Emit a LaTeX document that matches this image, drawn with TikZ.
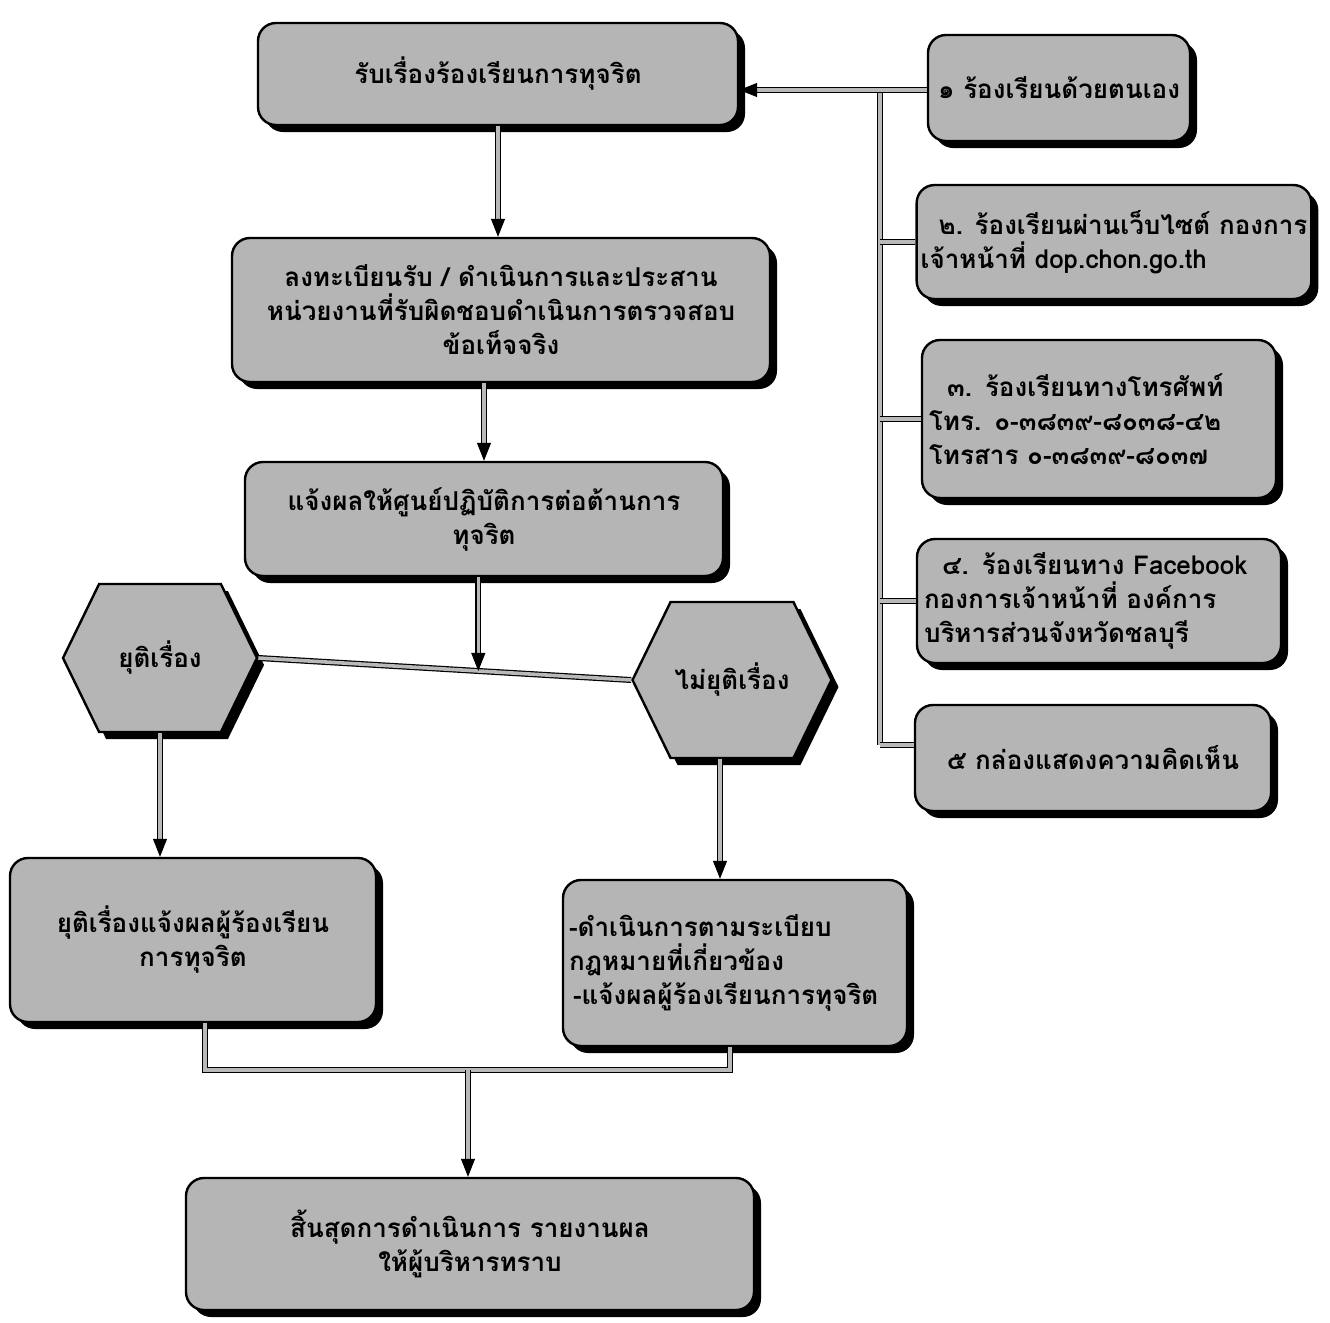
\documentclass[tikz,border=0pt]{standalone}
\usepackage{fontspec}
\newfontfamily\thai[Script=Thai]{Loma}
\usetikzlibrary{shapes.symbols,shadows,arrows.meta,calc}
\begin{document}
\begin{tikzpicture}[x=0.5pt,y=-0.5pt,
  box/.style={draw=black, line width=1.2pt, fill=gray!58, rounded corners=9pt,
    drop shadow={shadow xshift=3.5pt, shadow yshift=-3.5pt, fill=black, opacity=1},
    font=\thai\bfseries\fontsize{13}{17}\selectfont, align=center, inner sep=2pt},
  hexa/.style={box, shape=signal, signal to=west and east, signal pointer angle=128, rounded corners=0pt},
  conn/.style={draw=black, line width=0.6pt, double=gray!55, double distance=1.8pt},
  arr/.style={conn, -{Triangle[length=9pt,width=7pt]}}]
\useasboundingbox[fill=white] (0,0) rectangle (1330,1323);

% main flow
\node[box, minimum width=240pt, minimum height=51pt] (b1) at (498,74) {รับเรื่องร้องเรียนการทุจริต};
\node[box, minimum width=269pt, minimum height=72pt] (b2) at (501,310) {ลงทะเบียนรับ / ดำเนินการและประสาน\\หน่วยงานที่รับผิดชอบดำเนินการตรวจสอบ\\ข้อเท็จจริง};
\node[box, minimum width=239pt, minimum height=57pt] (b3) at (484,519) {แจ้งผลให้ศูนย์ปฏิบัติการต่อต้านการ\\ทุจริต};
\node[hexa, minimum width=97pt, minimum height=74pt] (hl) at (160,658) {ยุติเรื่อง};
\node[hexa, minimum width=96pt, minimum height=78pt] (hr) at (732,680) {ไม่ยุติเรื่อง};
\node[box, minimum width=183pt, minimum height=82pt] (b6) at (193,940) {ยุติเรื่องแจ้งผลผู้ร้องเรียน\\การทุจริต};
\node[box, minimum width=172pt, minimum height=83pt, align=left, text width=166pt] (b7) at (735,963) {-ดำเนินการตามระเบียบ\\กฎหมายที่เกี่ยวข้อง\\\hspace*{2pt}-แจ้งผลผู้ร้องเรียนการทุจริต};
\node[box, minimum width=284pt, minimum height=66pt] (b8) at (470,1244) {สิ้นสุดการดำเนินการ รายงานผล\\ให้ผู้บริหารทราบ};

% channels
\node[box, minimum width=131pt, minimum height=53pt] (r1) at (1059,88) {๑ ร้องเรียนด้วยตนเอง};
\node[box, minimum width=192pt, minimum height=57pt, align=left] (r2) at (1114,242) {\hspace*{9pt}๒. ร้องเรียนผ่านเว็บไซต์ กองการ\\เจ้าหน้าที่ dop.chon.go.th};
\node[box, minimum width=177pt, minimum height=79pt, align=left, text width=170pt] (r3) at (1099,419) {\hspace*{9pt}๓. ร้องเรียนทางโทรศัพท์\\โทร. ๐-๓๘๓๙-๘๐๓๘-๔๒\\โทรสาร ๐-๓๘๓๙-๘๐๓๗};
\node[box, minimum width=182pt, minimum height=62pt, align=left, text width=175pt] (r4) at (1099,601) {\hspace*{9pt}๔. ร้องเรียนทาง Facebook\\กองการเจ้าหน้าที่ องค์การ\\บริหารส่วนจังหวัดชลบุรี};
\node[box, minimum width=178pt, minimum height=53pt] (r5) at (1093,758) {๕ กล่องแสดงความคิดเห็น};

% bus on the right
\coordinate (bt) at (880,90);
\coordinate (bb) at (880,745);
\draw[conn] (bt) -- (bb);
\draw[conn] (bt) -- (bt -| r1.west);
\draw[conn] (r2.west -| bt) -- (r2.west);
\draw[conn] (r3.west -| bt) -- (r3.west);
\draw[conn] (r4.west -| bt) -- (r4.west);
\draw[conn] (bb) -- (bb -| r5.west);
\draw[arr] (bt) -- (bt -| b1.east);

% main arrows
\draw[arr] (b1.south) -- (b1.south |- b2.north);
\draw[arr] (b3.north |- b2.south) -- (b3.north);
\draw[conn] (hl.east) -- (hr.west);
\coordinate (hm) at ($(hl.east)!0.59!(hr.west)$);
\draw[arr] (b3.south -| hm) -- (hm);
\draw[arr] (hl.south) -- (hl.south |- b6.north);
\draw[arr] ($(hr.south)+(-12,0)$) -- ($(hr.south |- b7.north)+(-12,0)$);

% merge
\coordinate (j1) at (205,1070);
\coordinate (j2) at (730,1070);
\coordinate (jm) at (468,1070);
\draw[conn] (j1 |- b6.south) -- (j1) -- (j2) -- (j2 |- b7.south);
\draw[arr] (jm) -- (jm |- b8.north);
\end{tikzpicture}
\end{document}
